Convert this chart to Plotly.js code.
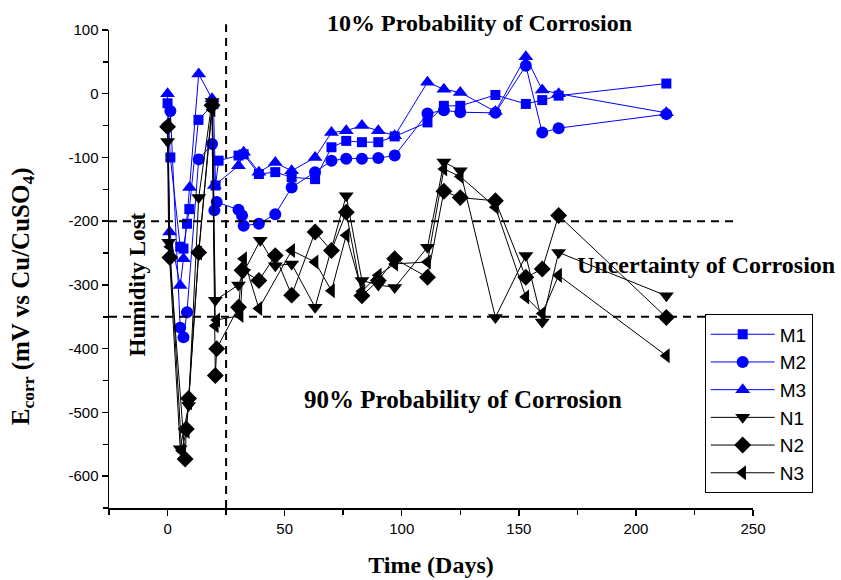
<!DOCTYPE html>
<html>
<head>
<meta charset="utf-8">
<script src="https://cdn.plot.ly/plotly-3.0.1.min.js"></script>
<style>
  html, body { margin: 0; padding: 0; background: #fff; }
  #chart { width: 841px; height: 580px; }
</style>
</head>
<body>
<div id="chart"></div>
<script>
// Corrosion potential readings (mV vs Cu/CuSO4) against exposure time (days)
const m1Days = [0, 1.2, 5.4, 6.8, 8.3, 9.3, 13.2, 19.6, 20.5, 21.8, 30.3, 32.5, 39, 46, 53, 63, 70, 76.3, 83, 90, 97, 111, 118, 125, 140, 153, 160, 167, 213];
const m1Vals = [-15, -100, -240, -243, -204, -181, -41, -16, -144, -105, -97, -95, -126, -123, -131, -134, -84, -74, -76, -76, -67, -45, -19, -19, -2, -16, -10, -3, 16];

const m2Days = [1.2, 5.4, 6.8, 8.3, 13.3, 19, 20, 21, 30.3, 31.8, 32.5, 39, 46, 53, 63, 70, 76.3, 83, 90, 97, 111, 118, 125, 140, 153, 160, 167, 213];
const m2Vals = [-27, -367, -382, -343, -103, -79, -183, -170, -182, -191, -207, -204, -189, -147, -123, -105, -102, -102, -101, -97, -31, -26, -29, -30, 44, -61, -54, -32];

const m3Days = [0, 0.9, 5.4, 6.8, 9.4, 13.3, 19, 20, 30.3, 32.5, 39, 46, 53, 63, 70, 76.3, 83, 90, 97, 111, 118, 125, 140, 153, 160, 167, 213];
const m3Vals = [0, -217, -301, -259, -147, 31, -8, -144, -113, -92, -123, -108, -121, -100, -61, -58, -50, -58, -66, 18, 7, 2, -28, 58, 6, 0, -30];

const n1Days = [0, 0.5, 5.4, 9, 13.3, 19, 20.4, 30.3, 32.5, 39.6, 46, 53, 63, 76.3, 83, 90, 97, 111, 118, 125, 140, 153, 160, 167, 213];
const n1Vals = [-75, -233, -557, -489, -163, -12, -324, -300, -280, -230, -270, -267, -335, -160, -293, -300, -304, -241, -107, -121, -351, -254, -358, -249, -317];

const n2Days = [0, 1, 7.5, 8, 9, 13.3, 19, 20.4, 21, 30.3, 31.8, 39, 46, 53, 63, 70, 76.3, 83, 90, 97, 111, 118, 125, 140, 153, 160, 167, 213];
const n2Vals = [-52, -257, -573, -526, -478, -249, -18, -442, -400, -335, -277, -293, -254, -316, -217, -246, -186, -317, -293, -259, -288, -153, -163, -168, -288, -275, -191, -351];

const n3Days = [0, 1, 6, 8, 9, 13.3, 19, 20.4, 21, 31, 32.5, 39, 53, 63, 70, 76.3, 83, 90, 97, 111, 118, 125, 140, 153, 160, 167, 213];
const n3Vals = [-48, -240, -560, -530, -485, -250, -25, -364, -355, -348, -259, -337, -246, -264, -309, -222, -310, -285, -267, -264, -118, -130, -178, -319, -345, -285, -411];

// Axis ticks
const xTicks = [0, 50, 100, 150, 200, 250];
const yTicks = [100, 0, -100, -200, -300, -400, -500, -600];
const yTickText = ['100', '0', '-100', '-200', '-300', '-400', '-500', '-600'];

// Corrosion-probability thresholds and the day humidity was lost
const thresholdLow = -350;
const thresholdHigh = -200;
const thresholdEnd = 243;
const humidityDay = 25;

const BLUE = '#0000ff';
const BLACK = '#000000';

function series(name, x, y, color, symbol, size) {
  return {
    type: 'scatter', mode: 'lines+markers', name: name, x: x, y: y,
    legendgroup: name,
    line: { color: color, width: 1 },
    marker: { color: color, symbol: symbol, size: size }
  };
}

const traces = [
  series('M1', m1Days, m1Vals, BLUE, 'square', 10),
  series('M2', m2Days, m2Vals, BLUE, 'circle', 12),
  series('M3', m3Days, m3Vals, BLUE, 'triangle-up', 13),
  series('N1', n1Days, n1Vals, BLACK, 'triangle-down', 13),
  series('N2', n2Days, n2Vals, BLACK, 'diamond', 13),
  series('N3', n3Days, n3Vals, BLACK, 'triangle-left', 13)
];

const serif = 'Liberation Serif, Times New Roman, serif';
const sans = 'Liberation Sans, Arial, sans-serif';
const dashStyle = { color: BLACK, width: 2, dash: '8px,6px' };

const layout = {
  width: 841, height: 580,
  margin: { l: 109, r: 88, t: 29.5, b: 72 },
  paper_bgcolor: '#fff', plot_bgcolor: '#fff',
  showlegend: true,
  xaxis: {
    range: [-25, 250], tickvals: xTicks,
    showgrid: false, zeroline: false, showline: true, linecolor: BLACK, linewidth: 1.5,
    ticks: 'outside', ticklen: 6, tickwidth: 1.5, tickcolor: BLACK,
    minor: { tickvals: [-25, 25, 75, 125, 175, 225], ticks: 'outside', ticklen: 5, tickwidth: 1.5, tickcolor: BLACK },
    tickfont: { family: sans, size: 15, color: BLACK },
    title: { text: '<b>Time (Days)</b>', font: { family: serif, size: 24, color: BLACK }, standoff: 20 }
  },
  yaxis: {
    range: [-650, 100], tickvals: yTicks, ticktext: yTickText,
    showgrid: false, zeroline: false, showline: true, linecolor: BLACK, linewidth: 1.5,
    ticks: 'outside', ticklen: 6, tickwidth: 1.5, tickcolor: BLACK,
    minor: { tickvals: [50, -50, -150, -250, -350, -450, -550, -650], ticks: 'outside', ticklen: 5, tickwidth: 1.5, tickcolor: BLACK },
    tickfont: { family: sans, size: 15, color: BLACK }
  },
  legend: {
    x: 0.925, y: 0.405, xanchor: 'left', yanchor: 'top',
    bordercolor: BLACK, borderwidth: 1, bgcolor: '#fff',
    font: { family: sans, size: 19, color: BLACK },
    itemwidth: 64,
    tracegroupgap: 0
  },
  shapes: [
    { type: 'line', xref: 'x', yref: 'paper', x0: humidityDay, x1: humidityDay, y0: 0, y1: 1.012, line: dashStyle },
    { type: 'line', xref: 'paper', yref: 'y', x0: 0, x1: (thresholdEnd + 25) / 275, y0: thresholdHigh, y1: thresholdHigh, line: dashStyle },
    { type: 'line', xref: 'paper', yref: 'y', x0: 0, x1: (thresholdEnd + 25) / 275, y0: thresholdLow, y1: thresholdLow, line: dashStyle }
  ],
  annotations: [
    { text: '<b>10% Probability of Corrosion</b>', xref: 'x', yref: 'paper', x: 133, y: 1.0, yshift: 7, showarrow: false, xanchor: 'center', yanchor: 'middle', font: { family: serif, size: 24, color: BLACK } },
    { text: '<b>Uncertainty of Corrosion</b>', xref: 'x', yref: 'y', x: 230, y: -268, showarrow: false, xanchor: 'center', yanchor: 'middle', font: { family: serif, size: 24, color: BLACK } },
    { text: '<b>90% Probability of Corrosion</b>', xref: 'x', yref: 'y', x: 126, y: -480, showarrow: false, xanchor: 'center', yanchor: 'middle', font: { family: serif, size: 25, color: BLACK } },
    { text: '<b>Humidity Lost</b>', xref: 'x', yref: 'y', x: -12.8, y: -300, textangle: -90, showarrow: false, xanchor: 'center', yanchor: 'middle', font: { family: serif, size: 23, color: BLACK } },
    { text: '<b>E<sub>corr</sub> (mV vs Cu/CuSO<sub>4</sub>)</b>', xref: 'paper', yref: 'paper', x: -0.135, y: 0.443, textangle: -90, showarrow: false, xanchor: 'center', yanchor: 'middle', font: { family: serif, size: 25, color: BLACK } }
  ]
};

Plotly.newPlot('chart', traces, layout, { displayModeBar: false, staticPlot: true });
</script>
</body>
</html>
